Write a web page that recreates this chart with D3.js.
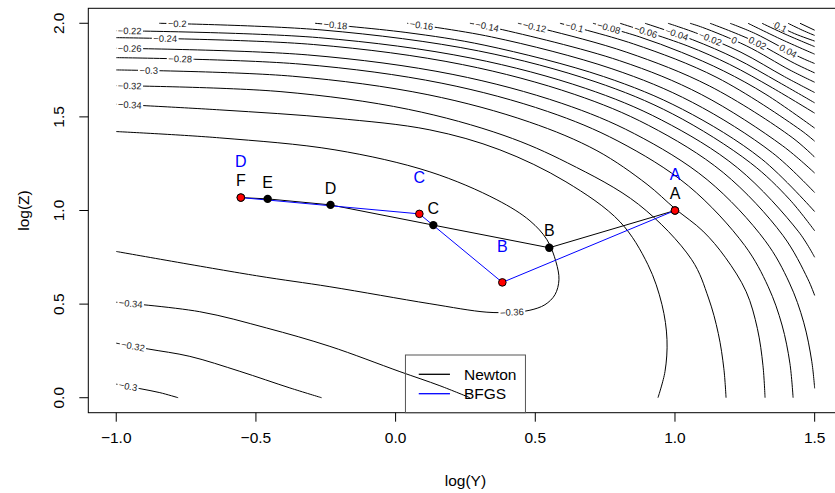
<!DOCTYPE html>
<html><head><meta charset="utf-8">
<script src="https://cdn.jsdelivr.net/npm/d3@7"></script>
<style>body{margin:0;background:#fff} text{font-family:"Liberation Sans",Arial,sans-serif}</style>
</head><body><svg id="c" width="835" height="493"></svg>
<script>
// ---------- data ----------
const xTicks = [-1.0, -0.5, 0.0, 0.5, 1.0, 1.5];
const yTicks = [0.0, 0.5, 1.0, 1.5, 2.0];
const newtonNames = ["A","B","C","D","E","F"];
const newtonX = [1.0, 0.55, 0.135, -0.233, -0.458, -0.554];
const newtonY = [1.0, 0.801, 0.922, 1.030, 1.062, 1.069];
const bfgsNames = ["A","B","C","D"];
const bfgsX = [1.0, 0.382, 0.085, -0.554];
const bfgsY = [1.0, 0.616, 0.982, 1.069];
const legendNames = ["Newton","BFGS"];

// contour lines, points in (log(Y), log(Z))
const cM036 = [[-1,1.4216],[-0.6291,1.3879],[-0.217,1.3239],[0.1228,1.2065],[0.3627,1.0571],[0.4809,0.945],[0.5418,0.8437],[0.5739,0.7263],[0.5847,0.6302],[0.5704,0.5502],[0.5346,0.4968],[0.4809,0.4674],[0.4164,0.4568],[0.3269,0.4568],[0.1228,0.5021],[-0.2352,0.5928],[-0.4977,0.6515],[-1,0.7812]];
const cM034a = [[-1,1.5678],[-0.6291,1.5374],[-0.217,1.4931],[0.1228,1.4306],[0.3734,1.3239],[0.6097,1.1532],[0.8031,0.9397],[0.9033,0.7103],[0.9535,0.4968],[0.9714,0.31],[0.9642,0.1393],[0.9391,0]];
const cM034b = [[-1,0.5101],[-0.701,0.4594],[-0.4619,0.3725],[-0.2352,0.2743],[0.0154,0.1393],[0.1586,0.064],[0.266,0]];
const cM032a = [[-1,1.667],[-0.4103,1.6348],[0.0459,1.5403],[0.388,1.4007],[0.616,1.254],[0.87,1.0323],[1.06,0.737],[1.12,0.5326],[1.155,0.3436],[1.175,0.1545],[1.1828,0]];
const cM032b = [[-1,0.2914],[-0.8858,0.2604],[-0.7365,0.2209],[-0.5575,0.1409],[-0.3785,0.0523],[-0.2649,0]];
const cM030a = [[-1,1.7508],[-0.3684,1.7172],[0.1157,1.6185],[0.4787,1.4727],[0.7207,1.3195],[0.9,1.14],[1.0,1.01],[1.1,0.89],[1.18,0.75],[1.255,0.566],[1.295,0.369],[1.315,0.171],[1.3224,0]];
const cM030b = [[-1,0.0726],[-0.9155,0.0486],[-0.8439,0.0272],[-0.7784,0]];
const cM028 = [[-1,1.8164],[-0.3383,1.7816],[0.1658,1.6797],[0.5439,1.5291],[0.796,1.3708],[1.048,1.1315],[1.2497,0.8129],[1.3339,0.5924],[1.3831,0.3884],[1.4113,0.1844],[1.4228,0]];
const cM026 = [[-1,1.8666],[-0.3147,1.831],[0.2052,1.7266],[0.5951,1.5722],[0.8551,1.41],[1.115,1.1649],[1.3229,0.8384],[1.4098,0.6125],[1.4606,0.4035],[1.4896,0.1944],[1.5,0.05]];
const cM024 = [[-1,1.9232],[-0.2943,1.8866],[0.2392,1.7794],[0.6393,1.6208],[0.9061,1.4542],[1.1728,1.2025],[1.3862,0.8672],[1.4753,0.6351],[1.5,0.5462]];
const cM022 = [[-1,1.9605],[-0.276,1.9233],[0.2696,1.8142],[0.6788,1.6529],[0.9517,1.4834],[1.2245,1.2272],[1.4427,0.8861],[1.5,0.7501]];
const cM020 = [[-0.8461,2],[-0.2599,1.9637],[0.2965,1.8525],[0.7138,1.6882],[0.992,1.5155],[1.2702,1.2545],[1.4093,1.0605],[1.5,0.8915]];
const cM018 = [[-0.2884,2],[0.0369,1.951],[0.3198,1.8824],[0.744,1.7157],[1.0269,1.5405],[1.3097,1.2758],[1.5,0.9942]];
const cM016 = [[0.0412,2],[0.3431,1.9272],[0.7743,1.757],[1.0618,1.5781],[1.3493,1.3077],[1.5,1.0957]];
const cM014 = [[0.266,2],[0.3645,1.972],[0.8022,1.8],[1.094,1.62],[1.3858,1.345],[1.5,1.2]];
const cM012 = [[0.4379,2],[0.5321,1.9685],[0.8278,1.845],[1.1236,1.665],[1.4193,1.39],[1.5,1.285]];
const cM010 = [[0.5883,2],[0.8511,1.89],[1.1504,1.71],[1.4497,1.43],[1.5,1.37]];
const cM008 = [[0.7064,2],[0.872,1.928],[1.0233,1.845],[1.1746,1.745],[1.3258,1.62],[1.5,1.44]];
const cM006 = [[0.8031,2],[1.0434,1.88],[1.1961,1.78],[1.3488,1.655],[1.5,1.52]];
const cM004 = [[0.8926,2],[1.0634,1.912],[1.2175,1.812],[1.3717,1.685],[1.5,1.575]];
const cM002 = [[0.9749,2],[1.081,1.945],[1.2364,1.845],[1.3917,1.715],[1.5,1.63]];
const cP000 = [[1.0537,2],[1.0985,1.978],[1.2551,1.88],[1.4117,1.75],[1.5,1.685]];
const cP002 = [[1.1253,2],[1.2712,1.912],[1.4289,1.785],[1.5,1.735]];
const cP004 = [[1.1969,2],[1.2874,1.945],[1.4461,1.82],[1.5,1.785]];
const cP006 = [[1.2614,2],[1.3834,1.912],[1.5,1.835]];
const cP008 = [[1.3115,2],[1.3973,1.94],[1.5,1.875]];
const cP010 = [[1.3509,2],[1.4273,1.945],[1.5,1.905]];
const cP012 = [[1.4046,2],[1.4575,1.962],[1.5,1.935]];
const cP014 = [[1.4476,2],[1.5,1.963]];

const contourLevels = [-0.36,-0.34,-0.34,-0.32,-0.32,-0.3,-0.3,-0.28,-0.26,-0.24,-0.22,-0.2,-0.18,-0.16,-0.14,-0.12,-0.1,-0.08,-0.06,-0.04,-0.02,0,0.02,0.04,0.06,0.08,0.1,0.12,0.14];
const contourLines = [cM036,cM034a,cM034b,cM032a,cM032b,cM030a,cM030b,cM028,cM026,cM024,cM022,cM020,cM018,cM016,cM014,cM012,cM010,cM008,cM006,cM004,cM002,cP000,cP002,cP004,cP006,cP008,cP010,cP012,cP014];
// where each contour label sits (null = unlabeled)
const labelAnchors = [[0.4167,0.453],[-0.951,1.568],[-0.948,0.502],[-0.951,1.667],[-0.941,0.273],[-0.883,1.744],[-0.958,0.059],[-0.772,1.80],[-0.951,1.867],[-0.824,1.911],[-0.951,1.961],[-0.781,1.995],
  [-0.216,1.991],[0.093,1.985],[0.327,1.975],[0.495,1.965],[0.637,1.96],[0.760,1.955],[0.893,1.95],[1.004,1.937],[1.129,1.93],[1.215,1.919],[1.297,1.90],[1.411,1.868],null,null,[1.379,1.98],null,null];

// ---------- drawing ----------
const W = 835, H = 493;
const box = {left: 88.3, top: 8.3, right: 842.6, bottom: 412.7};
const x = d3.scaleLinear().domain([-1.1, 1.6]).range([box.left, box.right]);
const y = d3.scaleLinear().domain([-0.08, 2.08]).range([box.bottom, box.top]);
const svg = d3.select("#c");
svg.append("rect").attr("width", W).attr("height", H).attr("fill", "#fff");
const defs = svg.append("defs");
const fmt = v => (v === 0 ? "0" : String(v)).replace("-", "\u2212");
const line = d3.line().x(d => x(d[0])).y(d => y(d[1])).curve(d3.curveCatmullRom.alpha(0.5));
const gC = svg.append("g");
const gL = svg.append("g");

contourLines.forEach((pts, i) => {
  const p = gC.append("path").attr("d", line(pts)).attr("fill", "none")
    .attr("stroke", "#000").attr("stroke-width", 1);
  const a = labelAnchors[i];
  if (!a) return;
  const t = gL.append("text").attr("text-anchor", "middle").attr("dy", "0.35em")
    .style("font-size", "9.4px").attr("fill", "#222").text(fmt(contourLevels[i]));
  const w = t.node().getComputedTextLength();
  const node = p.node(), L = node.getTotalLength();
  const ax = x(a[0]), ay = y(a[1]);
  let best = 0, bd = 1e12;
  for (let s = 0; s <= L; s += 0.5) {
    const q = node.getPointAtLength(s);
    const d = (q.x - ax) ** 2 + (q.y - ay) ** 2;
    if (d < bd) { bd = d; best = s; }
  }
  best = Math.max(best, w / 2 + 1.5);
  best = Math.min(best, L - w / 2 - 1.5);
  const q = node.getPointAtLength(best);
  const q1 = node.getPointAtLength(Math.max(0, best - w / 2)), q2 = node.getPointAtLength(Math.min(L, best + w / 2));
  let ang = Math.atan2(q2.y - q1.y, q2.x - q1.x) * 180 / Math.PI;
  if (ang > 90) ang -= 180; if (ang < -90) ang += 180;
  const tr = `translate(${q.x},${q.y}) rotate(${ang})`;
  t.attr("transform", tr);
  const m = defs.append("mask").attr("id", "m" + i).attr("maskUnits", "userSpaceOnUse")
    .attr("x", 0).attr("y", 0).attr("width", W).attr("height", H);
  m.append("rect").attr("x", 0).attr("y", 0).attr("width", W).attr("height", H).attr("fill", "#fff");
  m.append("rect").attr("transform", tr).attr("x", -w / 2 - 1.5).attr("y", -5).attr("width", w + 3).attr("height", 10).attr("fill", "#000");
  p.attr("mask", `url(#m${i})`);
});

// optimisation paths
const newton = newtonX.map((v, i) => [v, newtonY[i]]);
const bfgs = bfgsX.map((v, i) => [v, bfgsY[i]]);
const straight = d3.line().x(d => x(d[0])).y(d => y(d[1]));
svg.append("path").attr("d", straight(newton)).attr("fill", "none").attr("stroke", "#000").attr("stroke-width", 1);
svg.append("path").attr("d", straight(bfgs)).attr("fill", "none").attr("stroke", "#0000ff").attr("stroke-width", 1);
svg.selectAll(".np").data(newton).enter().append("circle")
  .attr("cx", d => x(d[0])).attr("cy", d => y(d[1])).attr("r", 4.2).attr("fill", "#000");
svg.selectAll(".bp").data(bfgs).enter().append("circle")
  .attr("cx", d => x(d[0])).attr("cy", d => y(d[1])).attr("r", 3.8).attr("fill", "#ff0000").attr("stroke", "#000").attr("stroke-width", 1);
svg.selectAll(".nl").data(newton).enter().append("text")
  .attr("x", d => x(d[0])).attr("y", d => y(d[1]) - 11.3).attr("text-anchor", "middle")
  .style("font-size", "16px").attr("fill", "#000").text((d, i) => newtonNames[i]);
svg.selectAll(".bl").data(bfgs).enter().append("text")
  .attr("x", d => x(d[0])).attr("y", d => y(d[1]) - 30.8).attr("text-anchor", "middle")
  .style("font-size", "16px").attr("fill", "#0000ff").text((d, i) => bfgsNames[i]);

// frame & axes
svg.append("rect").attr("x", box.left).attr("y", box.top).attr("width", box.right - box.left)
  .attr("height", box.bottom - box.top).attr("fill", "none").attr("stroke", "#000").attr("stroke-width", 1);
const gx = svg.append("g");
xTicks.forEach(v => {
  gx.append("line").attr("x1", x(v)).attr("x2", x(v)).attr("y1", box.bottom).attr("y2", box.bottom + 9).attr("stroke", "#000");
  gx.append("text").attr("x", x(v)).attr("y", 443).attr("text-anchor", "middle").style("font-size", "15.5px").text(fmt(v.toFixed(1)));
});
const gy = svg.append("g");
yTicks.forEach(v => {
  gy.append("line").attr("x1", box.left - 9).attr("x2", box.left).attr("y1", y(v)).attr("y2", y(v)).attr("stroke", "#000");
  gy.append("text").attr("transform", `translate(64,${y(v)}) rotate(-90)`).attr("text-anchor", "middle").style("font-size", "15.5px").text(v.toFixed(1));
});
svg.append("text").attr("x", x(0.25)).attr("y", 486).attr("text-anchor", "middle").style("font-size", "15.5px").text("log(Y)");
svg.append("text").attr("transform", `translate(29,${y(1)}) rotate(-90)`).attr("text-anchor", "middle").style("font-size", "15.5px").text("log(Z)");

// legend (bottom centre, transparent)
const lg = svg.append("g");
const cx = (box.left + box.right) / 2;
lg.append("rect").attr("x", cx - 60).attr("y", box.bottom - 57.7).attr("width", 120).attr("height", 57.7)
  .attr("fill", "none").attr("stroke", "#555").attr("stroke-width", 1);
const lcol = ["#000", "#0000ff"];
legendNames.forEach((n, i) => {
  const yy = box.bottom - 38.4 + i * 19.4;
  lg.append("line").attr("x1", cx - 46.7).attr("x2", cx - 15.5).attr("y1", yy).attr("y2", yy).attr("stroke", lcol[i]).attr("stroke-width", 1.3);
  lg.append("text").attr("x", cx - 1.5).attr("y", yy + 5.5).style("font-size", "15.5px").text(n);
});
</script></body></html>
